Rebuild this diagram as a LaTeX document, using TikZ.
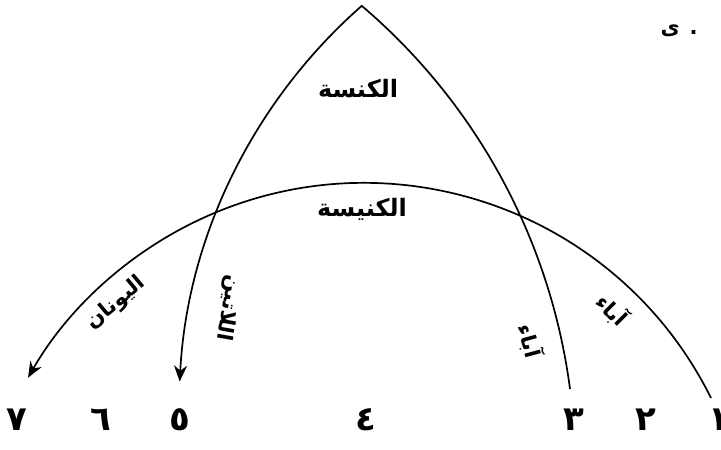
\documentclass[tikz,border=0pt]{standalone}
\usepackage{fontspec}
\usepackage{tikz}
\usetikzlibrary{arrows.meta}
\newfontfamily\arabicfont[Script=Arabic]{DejaVu Sans}
\TeXXeTstate=1

\begin{document}
\begin{tikzpicture}[
  x=1pt, y=1pt,
  >={Stealth[length=16pt, width=13pt]},
  arr/.style={->, line width=1.7pt, line join=round},
  lbl/.style={font=\arabicfont\bfseries\fontsize{24}{28}\selectfont, inner sep=0pt},
  side/.style={font=\arabicfont\bfseries\fontsize{21}{24}\selectfont, inner sep=0pt},
  num/.style={font=\arabicfont\bfseries\fontsize{34}{38}\selectfont, inner sep=0pt},
]
\useasboundingbox (0,0) rectangle (721,-450);

%% ===== CURVES =====
\coordinate (outR) at (711,-398);
\draw[arr] (outR) arc[start angle=26.4, end angle=150.2, radius=387.3] coordinate (outL);

\coordinate (archR) at (570,-389);
\draw[arr] (archR) arc[start angle=7.45, end angle=49.6, radius=606.4] coordinate (apex)
  arc[start angle=131.3, end angle=177, radius=537.6] coordinate (archL);

%% ===== LABELS =====
\node[lbl] (kanasa) at (358,-89) {\beginR الكنسة\endR};
\node[lbl] (kanisa) at (362,-209) {\beginR الكنيسة\endR};
\node[side, rotate=40] (yunan) at (116,-303) {\beginR اليونان\endR};
\node[side, rotate=-100] (latin) at (228,-308) {\beginR اللاتين\endR};
\node[side, rotate=-75] (abaIn) at (530,-341) {\beginR آباء\endR};
\node[side, rotate=-45] (abaOut) at (612,-310) {\beginR آباء\endR};
\node[side] (corner) at (679,-31) {\beginR . ى\endR};

%% ===== NUMBERS =====
\foreach \x/\d [count=\i] in {17/٧, 101/٦, 180/٥, 366/٤, 574/٣, 646/٢, 719/١}
  \node[num] (num\i) at (\x,-420) {\d};

\end{tikzpicture}
\end{document}
